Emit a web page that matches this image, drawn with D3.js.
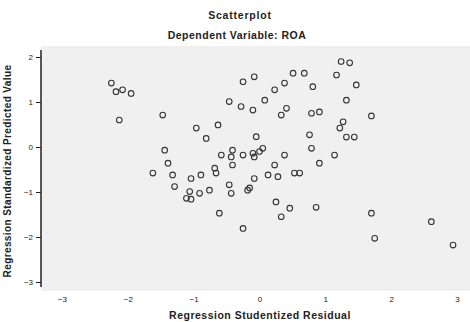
<!DOCTYPE html>
<html><head><meta charset="utf-8">
<script src="https://cdn.jsdelivr.net/npm/d3@7"></script>
<style>body{margin:0;background:#fff}svg{display:block}text{font-family:"Liberation Sans",Arial,sans-serif}</style>
</head><body><svg id="c" width="470" height="322"></svg>
<script>
const title = "Scatterplot";
const subtitle = "Dependent Variable: ROA";
const xLabel = "Regression Studentized Residual";
const yLabel = "Regression Standardized Predicted Value";
const xTicks = [-3, -2, -1, 0, 1, 2, 3];
const yTicks = [2, 1, 0, -1, -2, -3];
const residual = [-2.25,-2.18,-2.08,-1.95,-2.13,-1.47,-1.44,-0.96,-0.81,-0.63,-0.46,-0.28,-0.10,-0.25,-0.08,-0.41,-0.25,-0.10,-0.43,-0.05,-0.58,0.51,0.68,1.24,1.37,1.17,0.38,0.23,0.81,1.47,0.08,0.41,0.33,0.79,0.91,1.32,1.70,1.27,1.22,1.32,1.44,0.76,0.05,0.38,0.79,1.14,-1.39,-1.62,-1.32,-1.04,-0.89,-0.68,-0.66,-0.41,-0.08,-0.08,-0.46,-0.43,-0.18,-0.76,-0.91,-1.06,-1.11,-1.04,-1.29,-0.61,-0.25,0.00,0.23,0.91,0.13,0.28,0.53,0.61,-0.15,0.25,0.46,0.33,0.86,1.70,2.61,1.75,2.94];
const predicted = [1.42,1.23,1.27,1.19,0.60,0.71,-0.07,0.42,0.19,0.49,1.01,0.90,0.82,1.45,1.56,-0.07,-0.18,-0.14,-0.22,0.23,-0.18,1.64,1.64,1.90,1.87,1.60,1.42,1.27,1.34,1.38,1.04,0.86,0.71,0.75,0.78,1.04,0.69,0.56,0.42,0.22,0.22,0.27,-0.03,-0.18,-0.03,-0.18,-0.36,-0.58,-0.62,-0.70,-0.62,-0.47,-0.58,-0.40,-0.22,-0.70,-0.84,-1.03,-0.96,-0.96,-1.03,-0.99,-1.14,-1.16,-0.88,-1.47,-1.81,-0.10,-0.40,-0.36,-0.62,-0.66,-0.58,-0.58,-0.91,-1.22,-1.36,-1.55,-1.34,-1.47,-1.66,-2.03,-2.18];

const svg = d3.select("#c");
const plot = {left: 41, right: 470, top: 46, bottom: 291};
const x = d3.scaleLinear().domain([-3, 3]).range([62, 457]);
const y = d3.scaleLinear().domain([2, -3]).range([57, 282]);

svg.append("rect").attr("x", plot.left).attr("y", plot.top)
  .attr("width", plot.right - plot.left).attr("height", plot.bottom - plot.top)
  .attr("fill", "#f0f0f0");

svg.append("text").attr("x", 240).attr("y", 19).attr("text-anchor", "middle")
  .attr("font-size", 10.5).attr("font-weight", "bold").attr("letter-spacing", 0.8)
  .attr("fill", "#222").text(title);
svg.append("text").attr("x", 237).attr("y", 39).attr("text-anchor", "middle")
  .attr("font-size", 10.5).attr("font-weight", "bold").attr("letter-spacing", 0.5)
  .attr("fill", "#222").text(subtitle);

// y axis
const ya = svg.append("g").attr("transform", `translate(${plot.left},0)`)
  .call(d3.axisLeft(y).tickValues(yTicks).tickSize(5).tickFormat(d3.format("d")));
ya.select(".domain").attr("d", `M0,${plot.top + 4}V${plot.bottom - 4}`).attr("stroke", "#222").attr("stroke-width", 1.5);
ya.selectAll(".tick line").attr("stroke", "#222");
ya.selectAll(".tick text").attr("font-size", 8).attr("fill", "#222").attr("x", -8);

// x axis labels
const xa = svg.append("g").attr("transform", `translate(0,${plot.bottom})`)
  .call(d3.axisBottom(x).tickValues(xTicks).tickSize(0).tickFormat(d3.format("d")));
xa.select(".domain").remove();
xa.selectAll(".tick text").attr("font-size", 8).attr("fill", "#222").attr("dy", "1em");

svg.append("text").attr("x", 260).attr("y", 319).attr("text-anchor", "middle")
  .attr("font-size", 10.5).attr("font-weight", "bold").attr("letter-spacing", 0.5)
  .attr("fill", "#222").text(xLabel);
svg.append("text").attr("transform", "translate(11,171) rotate(-90)").attr("text-anchor", "middle")
  .attr("font-size", 10).attr("font-weight", "bold").attr("letter-spacing", 0.4)
  .attr("fill", "#222").text(yLabel);

svg.append("g").selectAll("circle").data(residual.map((r, i) => [r, predicted[i]]))
  .join("circle").attr("cx", d => x(d[0])).attr("cy", d => y(d[1])).attr("r", 2.8)
  .attr("fill", "none").attr("stroke", "#333").attr("stroke-width", 1.1);
</script></body></html>
